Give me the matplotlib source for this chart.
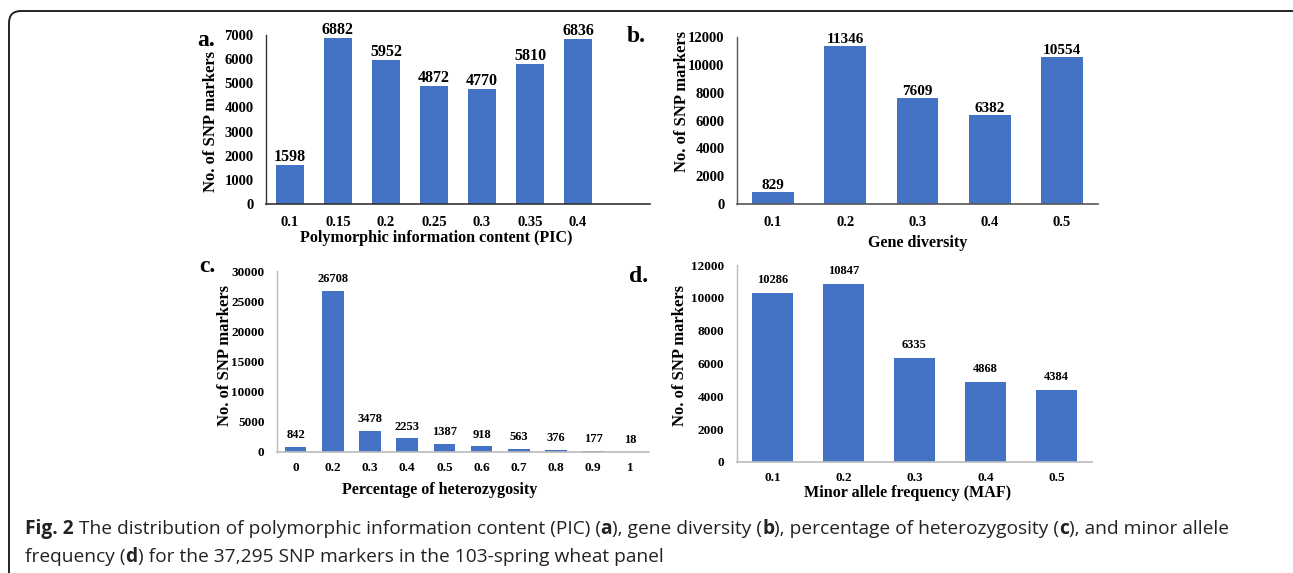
import matplotlib
matplotlib.use("Agg")
import matplotlib.pyplot as plt
from matplotlib.patches import FancyBboxPatch

# data
pic_labels = ["0.1", "0.15", "0.2", "0.25", "0.3", "0.35", "0.4"]
pic_counts = [1598, 6882, 5952, 4872, 4770, 5810, 6836]

gd_labels = ["0.1", "0.2", "0.3", "0.4", "0.5"]
gd_counts = [829, 11346, 7609, 6382, 10554]

het_labels = ["0", "0.2", "0.3", "0.4", "0.5", "0.6", "0.7", "0.8", "0.9", "1"]
het_counts = [842, 26708, 3478, 2253, 1387, 918, 563, 376, 177, 18]

maf_labels = ["0.1", "0.2", "0.3", "0.4", "0.5"]
maf_counts = [10286, 10847, 6335, 4868, 4384]

W, H = 1293, 573
BLUE = "#4472C4"
SERIF = ["Liberation Serif", "DejaVu Serif"]

fig = plt.figure(figsize=(W / 100, H / 100), dpi=100)


def px_axes(x0, x1, ytop, ybot):
    return fig.add_axes([x0 / W, 1 - ybot / H, (x1 - x0) / W, (ybot - ytop) / H])


def panel(ax, labels, counts, nslots, ymax, ystep, spine_col, tick_fs, xpad, val_fs, val_pad):
    x = list(range(len(labels)))
    ax.bar(x, counts, width=0.58, color=BLUE, zorder=2)
    ax.set_xlim(-0.5, nslots - 0.5)
    ax.set_ylim(0, ymax)
    ax.set_yticks(range(0, ymax + 1, ystep))
    ax.set_xticks(x)
    ax.set_xticklabels(labels)
    for s in ["top", "right"]:
        ax.spines[s].set_visible(False)
    ax.spines["left"].set_color(spine_col)
    ax.spines["bottom"].set_color(spine_col)
    ax.spines["left"].set_linewidth(1.0)
    ax.spines["bottom"].set_linewidth(1.2)
    ax.tick_params(length=0, labelsize=tick_fs, pad=9)
    ax.tick_params(axis="x", pad=xpad)
    for lab in ax.get_xticklabels() + ax.get_yticklabels():
        lab.set_fontfamily(SERIF)
        lab.set_fontweight("bold")
    for xi, v in zip(x, counts):
        ax.annotate(str(v), (xi, v), xytext=(0, val_pad), textcoords="offset points",
                    ha="center", va="bottom", fontsize=val_fs, fontweight="bold",
                    family=SERIF)
    ax.set_facecolor("none")


# a
ax_a = px_axes(266, 650, 35, 204)
panel(ax_a, pic_labels, pic_counts, 8, 7000, 1000, "#333333", 10.5, 9, 11.5, 0)
# b
ax_b = px_axes(737, 1098, 37, 204)
panel(ax_b, gd_labels, gd_counts, 5, 12000, 2000, "#555555", 10.5, 9, 11, 0)
# c
ax_c = px_axes(277, 649, 271, 452)
panel(ax_c, het_labels, het_counts, 10, 30000, 5000, "#bbbbbb", 9.5, 7.5, 9, 4)
# d
ax_d = px_axes(737, 1092, 265, 462)
panel(ax_d, maf_labels, maf_counts, 5, 12000, 2000, "#bbbbbb", 9.5, 7.5, 9, 5)


def ftext(x, y, s, **kw):
    kw.setdefault("family", SERIF)
    kw.setdefault("fontweight", "bold")
    return fig.text(x / W, 1 - y / H, s, **kw)


# y labels
for xx, yy in [(211, 121), (682, 101), (225, 355), (680, 355)]:
    ftext(xx, yy, "No. of SNP markers", rotation=90, ha="center", va="center", fontsize=12)

# x labels
ftext(436, 238, "Polymorphic information content (PIC)", ha="center", va="center", fontsize=11.6)
ftext(918, 243, "Gene diversity", ha="center", va="center", fontsize=11.6)
ftext(440, 490, "Percentage of heterozygosity", ha="center", va="center", fontsize=11.6)
ftext(908, 493, "Minor allele frequency (MAF)", ha="center", va="center", fontsize=11.6)

# panel letters
ftext(197, 41, "a.", ha="left", va="center", fontsize=17)
ftext(627, 36, "b.", ha="left", va="center", fontsize=17)
ftext(199, 267, "c.", ha="left", va="center", fontsize=17)
ftext(629, 276, "d.", ha="left", va="center", fontsize=17)

# frame
box = FancyBboxPatch((9 / 100, (H - 640) / 100), (1320 - 9) / 100, (640 - 11) / 100,
                     boxstyle="round,pad=0,rounding_size=0.12",
                     transform=fig.dpi_scale_trans, fill=False,
                     edgecolor="#222222", linewidth=1.4, clip_on=False)
fig.patches.append(box)

# caption with bold pieces
CAP_FONT = ["Open Sans", "DejaVu Sans"]
renderer = fig.canvas.get_renderer()


def caption_line(y, pieces, x=25, fs=13.8):
    for s, bold in pieces:
        t = fig.text(x / W, 1 - y / H, s, ha="left", va="center", fontsize=fs,
                     family=CAP_FONT, fontweight="bold" if bold else "normal",
                     color="#222222")
        bb = t.get_window_extent(renderer=renderer)
        x += bb.width


caption_line(529, [("Fig. 2", True),
                   (" The distribution of polymorphic information content (PIC) (", False),
                   ("a", True), ("), gene diversity (", False), ("b", True),
                   ("), percentage of heterozygosity (", False), ("c", True),
                   ("), and minor allele", False)])
caption_line(557, [("frequency (", False), ("d", True),
                   (") for the 37,295 SNP markers in the 103-spring wheat panel", False)])

fig.savefig("out.png", dpi=100)
